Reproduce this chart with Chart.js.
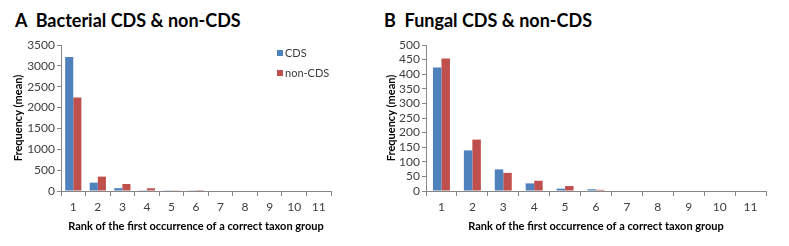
<!DOCTYPE html>
<html>
<head>
<meta charset="utf-8">
<script src="https://cdn.jsdelivr.net/npm/chart.js@4/dist/chart.umd.min.js"></script>
<style>
html,body{margin:0;padding:0;background:#fff;}
body{width:789px;height:246px;position:relative;overflow:hidden;font-family:Lato,"Open Sans",sans-serif;}
.title{position:absolute;top:9px;font-weight:bold;font-size:18px;color:#000;white-space:pre;font-family:Lato,"Open Sans",sans-serif;}
.wrap{position:absolute;top:0;height:246px;}
</style>
</head>
<body>
<div class="title" style="left:15px;">A  Bacterial CDS &amp; non-CDS</div>
<div class="title" style="left:384px;">B  Fungal CDS &amp; non-CDS</div>
<div class="wrap" style="left:0;width:380px;"><canvas id="cA" width="380" height="246"></canvas></div>
<div class="wrap" style="left:380px;width:409px;"><canvas id="cB" width="409" height="246"></canvas></div>
<script>
const ranks = ["1","2","3","4","5","6","7","8","9","10","11"];
const seriesNames = ["CDS","non-CDS"];
const bacterialCDS    = [3215, 200, 68, 18, 18, 6, 0, 0, 0, 0, 0];
const bacterialNonCDS = [2240, 345, 168, 65, 18, 22, 0, 0, 0, 0, 0];
const fungalCDS       = [423, 139, 74, 26, 8, 6, 0, 0, 0, 0, 0];
const fungalNonCDS    = [454, 176, 62, 35, 17, 4, 0, 0, 0, 0, 0];
const yTitle = "Frequency (mean)";
const xTitle = "Rank of the first occurrence of a correct taxon group";

const BLUE = "#4F81BD", RED = "#C0504D", AXIS = "#868686", TXT = "#404040";
const FONT = "Lato, 'Open Sans', sans-serif";

const insideLegend = {
  id: "insideLegend",
  afterDraw(chart, args, opts) {
    if (!opts.show) return;
    const ctx = chart.ctx;
    ctx.save();
    ctx.font = "11px " + FONT;
    ctx.textBaseline = "middle";
    chart.data.datasets.forEach((ds, i) => {
      const y = opts.y + i * opts.gap;
      ctx.fillStyle = ds.backgroundColor;
      ctx.fillRect(opts.x, y - 3, 6, 6);
      ctx.fillStyle = TXT;
      ctx.fillText(ds.label, opts.x + 8, y);
    });
    ctx.restore();
  }
};

function makeChart(id, a, b, yMax, yStep, cfg) {
  return new Chart(document.getElementById(id), {
    type: "bar",
    data: {
      labels: ranks,
      datasets: [
        {label: seriesNames[0], data: a, backgroundColor: BLUE},
        {label: seriesNames[1], data: b, backgroundColor: RED}
      ]
    },
    options: {
      responsive: false,
      animation: false,
      devicePixelRatio: 1,
      layout: {padding: {top: 45, left: 0, right: cfg.right, bottom: 0}},
      datasets: {bar: {categoryPercentage: cfg.cat, barPercentage: 1.0}},
      plugins: {
        legend: {display: false},
        tooltip: {enabled: false},
        insideLegend: cfg.legend
      },
      scales: {
        x: {
          grid: {display: true, drawOnChartArea: false, drawTicks: true, tickLength: 5, color: AXIS, offset: true},
          border: {display: true, color: AXIS, width: 1},
          ticks: {color: TXT, font: {family: FONT, size: 12}, padding: 4, maxRotation: 0, autoSkip: false},
          title: {display: true, text: xTitle, color: "#000", font: {family: FONT, size: 11, weight: "bold"}, padding: {top: 0, bottom: 13}},
          afterFit(s) { s.height = 55; }
        },
        y: {
          min: 0, max: yMax,
          grid: {display: true, drawOnChartArea: false, drawTicks: true, tickLength: 4, color: AXIS},
          border: {display: true, color: AXIS, width: 1},
          ticks: {stepSize: yStep, autoSkip: false, color: TXT, font: {family: FONT, size: 12}, padding: 2,
                  callback: (v) => String(v)},
          title: {display: true, text: yTitle, color: "#000", font: {family: FONT, size: 11, weight: "bold"}, padding: {top: cfg.ytp, bottom: 0}},
          afterFit(s) { s.width = cfg.yw; }
        }
      }
    },
    plugins: [insideLegend]
  });
}

makeChart("cA", bacterialCDS, bacterialNonCDS, 3500, 500,
  {right: 49, yw: 61, ytp: 12, cat: 0.66, legend: {show: true, x: 277, y: 53, gap: 20}});
makeChart("cB", fungalCDS, fungalNonCDS, 500, 50,
  {right: 23, yw: 46, ytp: 5, cat: 0.55, legend: {show: false}});
</script>
</body>
</html>
